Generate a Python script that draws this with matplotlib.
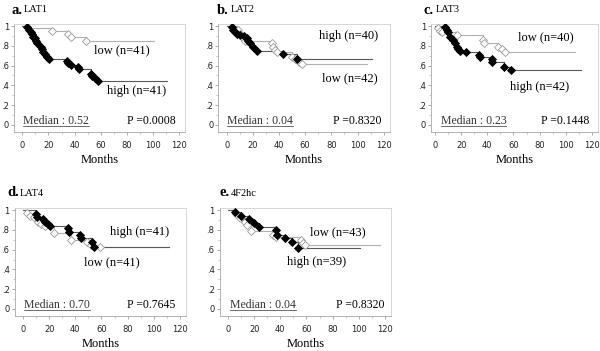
import matplotlib
matplotlib.use("Agg")
import matplotlib.pyplot as plt
from matplotlib.lines import Line2D
from matplotlib.ticker import MultipleLocator, FixedLocator

# ---------------- data ----------------
panel_letters = ["a.", "b.", "c.", "d.", "e."]
panel_genes = ["LAT1", "LAT2", "LAT3", "LAT4", "4F2hc"]
medians = ["0.52", "0.04", "0.23", "0.70", "0.04"]
pvalues = ["0.0008", "0.8320", "0.1448", "0.7645", "0.8320"]
high_labels = ["high (n=41)", "high (n=40)", "high (n=42)", "high (n=41)", "high (n=39)"]
low_labels = ["low (n=41)", "low (n=42)", "low (n=40)", "low (n=41)", "low (n=43)"]

a_high_t = [3.8, 5.3, 6.3, 7.4, 8.4, 9.4, 10.5, 11.5, 14.5, 15, 16, 17.3, 18.6, 20.1,
            33.9, 35.2, 37, 42.3, 43.3, 52.2, 53, 55.5, 57.6]
a_high_s = [0.99, 0.96, 0.94, 0.92, 0.89, 0.88, 0.85, 0.83, 0.79, 0.77, 0.74, 0.72, 0.69, 0.67,
            0.65, 0.63, 0.61, 0.59, 0.57, 0.52, 0.49, 0.47, 0.44]
a_high_end = 111
a_low_t = [4, 23, 34.6, 37.2, 48.9]
a_low_s = [0.976, 0.95, 0.92, 0.89, 0.85]
a_low_end = 101

b_high_t = [3.8, 5.1, 6.4, 8, 10, 13.5, 15.3, 16.6, 17.9, 20.4, 23.5, 43.4, 53.6]
b_high_s = [0.99, 0.96, 0.94, 0.92, 0.91, 0.90, 0.88, 0.85, 0.83, 0.79, 0.75, 0.72, 0.67]
b_high_end = 111
b_low_t = [8.9, 10.2, 11.5, 14, 34.5, 35.7, 37, 38.5, 49.8, 52.3, 54.9, 57.4]
b_low_s = [0.96, 0.92, 0.89, 0.85, 0.83, 0.79, 0.76, 0.74, 0.69, 0.67, 0.64, 0.62]
b_low_end = 107

c_high_t = [7.7, 8.9, 10.2, 11.5, 14, 15.3, 16.6, 17.9, 19.1, 23.7, 34, 34.5, 43.4, 43.9, 53.1, 58]
c_high_s = [0.99, 0.96, 0.94, 0.89, 0.86, 0.83, 0.79, 0.77, 0.75, 0.74, 0.71, 0.69, 0.67, 0.64, 0.59, 0.56]
c_high_end = 111.6
c_low_t = [2.6, 3.8, 5.1, 16.6, 37, 37.8, 48.5, 51, 53.6]
c_low_s = [0.98, 0.95, 0.94, 0.91, 0.86, 0.83, 0.79, 0.77, 0.74]
c_low_end = 107

d_high_t = [10.2, 10.7, 15.3, 17, 18.8, 20.3, 34.3, 35.3, 43.2, 44.2, 52.6, 53.9]
d_high_s = [0.96, 0.93, 0.91, 0.88, 0.86, 0.84, 0.82, 0.78, 0.75, 0.72, 0.68, 0.63]
d_high_end = 112
d_low_t = [3, 5.6, 8.1, 11.2, 13.7, 16.5, 23.4, 36.6, 49.3, 51.9, 58.5]
d_low_s = [0.97, 0.94, 0.93, 0.88, 0.86, 0.84, 0.77, 0.70, 0.68, 0.65, 0.63]
d_low_end = 107

e_high_t = [5.6, 10.3, 15.9, 20, 23.8, 36.7, 37.2, 43.6, 49.2, 53.8]
e_high_s = [0.98, 0.94, 0.91, 0.87, 0.83, 0.80, 0.75, 0.72, 0.68, 0.62]
e_high_end = 101
e_low_t = [6.4, 9, 12.8, 14.9, 17.9, 34.6, 36.7, 55.9, 57.7, 59]
e_low_s = [0.96, 0.92, 0.88, 0.85, 0.79, 0.75, 0.73, 0.70, 0.67, 0.65]
e_low_end = 116

x_ticks = [0, 20, 40, 60, 80, 100, 120]
y_ticks = [0, 0.2, 0.4, 0.6, 0.8, 1.0]
y_ticklabels = ["0", ".2", ".4", ".6", ".8", "1"]

high_series = [(a_high_t, a_high_s, a_high_end), (b_high_t, b_high_s, b_high_end),
               (c_high_t, c_high_s, c_high_end), (d_high_t, d_high_s, d_high_end),
               (e_high_t, e_high_s, e_high_end)]
low_series = [(a_low_t, a_low_s, a_low_end), (b_low_t, b_low_s, b_low_end),
              (c_low_t, c_low_s, c_low_end), (d_low_t, d_low_s, d_low_end),
              (e_low_t, e_low_s, e_low_end)]

# text positions (data coords)
high_pos = [(87, 0.34), (93, 0.90), (80, 0.38), (89, 0.78), (68, 0.47)]
low_pos = [(76, 0.75), (94, 0.47), (85, 0.89), (68, 0.47), (84, 0.77)]
med_pos = [(26, 0.04), (25.5, 0.04), (29.4, 0.04), (26, 0.04), (27, 0.04)]
p_pos = [(99, 0.04), (99.6, 0.04), (99.6, 0.04), (98, 0.04), (101, 0.04)]

# ---------------- layout ----------------
W, H = 600, 351
fig = plt.figure(figsize=(6.0, 3.51), dpi=100)
serif = ["Liberation Serif", "DejaVu Serif"]

px_per_month = 1.308
px_per_unit = 99.0
ylim = (-0.07, 1.02)
zero_px = [22.3, 226.7, 435.0, 23.0, 228.0]
xmin_list = [-6.3, -6.3, -3.0, -6.3, -6.3]
xmax = 124.5
one_py = [26, 26, 26, 210, 210]
title_xy = [(11, 10), (217, 10), (424, 10), (7, 193), (219, 193)]

lin_dark = "#5a5a5a"
lin_light = "#b0b0b0"
spine_c = "#a8a8a8"

underline_items = []
title_pairs = []

for i in range(5):
    xmin = xmin_list[i]
    left_px = zero_px[i] + xmin * px_per_month
    width_px = (xmax - xmin) * px_per_month
    top_px = one_py[i] - (ylim[1] - 1.0) * px_per_unit
    height_px = (ylim[1] - ylim[0]) * px_per_unit
    ax = fig.add_axes([left_px / W, 1 - (top_px + height_px) / H, width_px / W, height_px / H])
    ax.set_xlim(xmin, xmax)
    ax.set_ylim(*ylim)

    for sp in ax.spines.values():
        sp.set_color(spine_c)
        sp.set_linewidth(0.6)
    ax.spines["top"].set_color("#d0d0d0")
    ax.spines["right"].set_color("#d0d0d0")

    ax.xaxis.set_major_locator(FixedLocator(x_ticks))
    ax.xaxis.set_minor_locator(MultipleLocator(10))
    ax.yaxis.set_major_locator(FixedLocator(y_ticks))
    ax.set_yticklabels(y_ticklabels)
    ax.yaxis.set_minor_locator(MultipleLocator(0.1))
    ax.tick_params(which="major", length=2.2, width=0.5, color="#888888",
                   labelsize=6, labelcolor="#222222")
    ax.tick_params(which="minor", length=1.4, width=0.4, color="#999999")
    ax.tick_params(axis="x", pad=4.5)
    ax.tick_params(axis="y", pad=1.5)
    for lab in ax.get_xticklabels() + ax.get_yticklabels():
        lab.set_family(["DejaVu Sans"])

    ax.set_xlabel("Months", fontsize=9, family=serif, labelpad=2.5)

    for (t, s, end), lc, mfc, mec, z in [
        (low_series[i], lin_light, "white", "#9a9a9a", 2),
        (high_series[i], lin_dark, "black", "black", 3),
    ]:
        xs = [0] + list(t) + [end]
        ys = [1.0] + list(s) + [s[-1]]
        ax.step(xs, ys, where="post", color=lc, lw=0.8, zorder=z)
        ax.plot(t, s, linestyle="none", marker="D", markersize=3.8,
                markerfacecolor=mfc, markeredgecolor=mec, markeredgewidth=0.6, zorder=z + 2)

    ax.text(*high_pos[i], high_labels[i], fontsize=9, family=serif,
            ha="center", va="center", color="black")
    ax.text(*low_pos[i], low_labels[i], fontsize=9, family=serif,
            ha="center", va="center", color="black")
    mt = ax.text(*med_pos[i], "Median : " + medians[i], fontsize=8.5, family=serif,
                 ha="center", va="center", color="#333333")
    underline_items.append(mt)
    ax.text(*p_pos[i], "P =" + pvalues[i], fontsize=8.5, family=serif,
            ha="center", va="center", color="black")

    tx, ty = title_xy[i]
    lt = fig.text(tx / W, 1 - ty / H, panel_letters[i], fontsize=10.5, fontweight="bold",
                  family=serif, ha="left", va="center")
    gt = fig.text((tx + 10) / W, 1 - ty / H, panel_genes[i], fontsize=7.5,
                  family=serif, ha="left", va="center")
    title_pairs.append((lt, gt, ty))

fig.canvas.draw()
renderer = fig.canvas.get_renderer()
for lt, gt, ty in title_pairs:
    bb = lt.get_window_extent(renderer)
    gt.set_position(((bb.x1 + 1.5) / W, 1 - ty / H))
for mt in underline_items:
    bb = mt.get_window_extent(renderer)
    y = (bb.y0 + 0.8) / H
    fig.add_artist(Line2D([bb.x0 / W, bb.x1 / W], [y, y], color="#555555", lw=0.6,
                          transform=fig.transFigure))

fig.savefig("out.png", dpi=100)
